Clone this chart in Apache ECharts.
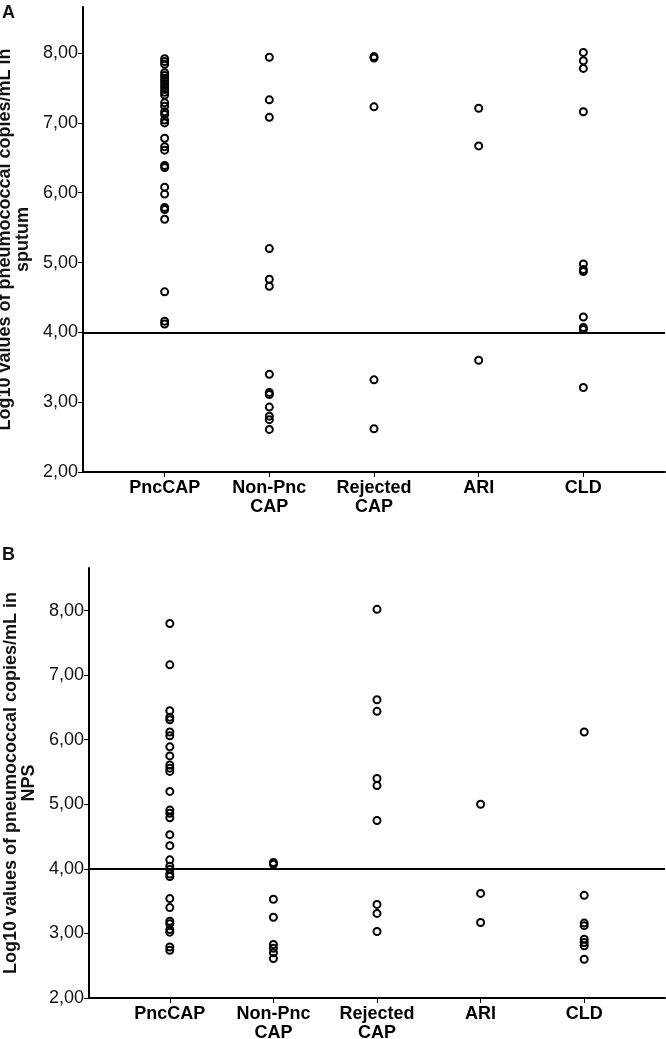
<!DOCTYPE html>
<html>
<head>
<meta charset="utf-8">
<script src="https://cdn.jsdelivr.net/npm/echarts@6/dist/echarts.min.js"></script>
<style>
html,body{margin:0;padding:0;background:#fff;}
#chart{width:666px;height:1039px;}
</style>
</head>
<body>
<div id="chart"></div>
<script>
const categories = ['PncCAP', 'Non-Pnc\nCAP', 'Rejected\nCAP', 'ARI', 'CLD'];
const yTicks = [2, 3, 4, 5, 6, 7, 8];
const threshold = 4;
const titleA = 'Log10 values of pneumococcal copies/mL in\nsputum';
const titleB = 'Log10 values of pneumococcal copies/mL in\nNPS';

// Panel A: sputum
const sputumPncCAP = [7.92, 7.88, 7.84, 7.72, 7.68, 7.64, 7.60, 7.56, 7.52, 7.48, 7.44, 7.40, 7.29, 7.24, 7.16, 7.12, 7.04, 7.00, 6.78, 6.66, 6.61, 6.39, 6.36, 6.08, 5.98, 5.79, 5.76, 5.62, 4.58, 4.16, 4.12];
const sputumNonPncCAP = [7.94, 7.33, 7.08, 5.20, 4.76, 4.66, 3.40, 3.14, 3.11, 2.93, 2.80, 2.75, 2.61];
const sputumRejectedCAP = [7.95, 7.93, 7.23, 3.32, 2.62];
const sputumARI = [7.21, 6.67, 3.60];
const sputumCLD = [8.01, 7.89, 7.78, 7.16, 4.98, 4.90, 4.87, 4.22, 4.07, 4.04, 3.21];

// Panel B: NPS
const npsPncCAP = [7.80, 7.16, 6.45, 6.35, 6.31, 6.12, 6.06, 5.89, 5.75, 5.61, 5.56, 5.51, 5.20, 4.91, 4.86, 4.79, 4.53, 4.36, 4.14, 4.04, 3.99, 3.92, 3.88, 3.54, 3.40, 3.19, 3.15, 3.06, 3.02, 2.79, 2.74];
const npsNonPncCAP = [4.10, 4.07, 3.53, 3.25, 2.83, 2.77, 2.70, 2.61];
const npsRejectedCAP = [8.02, 6.62, 6.44, 5.40, 5.29, 4.75, 3.45, 3.31, 3.03];
const npsARI = [5.00, 3.62, 3.17];
const npsCLD = [6.12, 3.59, 3.16, 3.12, 2.91, 2.86, 2.81, 2.60];

const sputumGroups = [sputumPncCAP, sputumNonPncCAP, sputumRejectedCAP, sputumARI, sputumCLD];
const npsGroups = [npsPncCAP, npsNonPncCAP, npsRejectedCAP, npsARI, npsCLD];

function toPoints(groups) {
  const pts = [];
  groups.forEach((g, i) => g.forEach(v => pts.push([i + 1, v])));
  return pts;
}

const FONT = '"Liberation Sans", Arial, sans-serif';
const catPositions = categories.map((c, i) => i + 1);

function xAxisCfg(gridIndex) {
  return {
    type: 'value', gridIndex: gridIndex, min: 0.22, max: 5.78,
    splitLine: {show: false},
    axisLine: {show: true, onZero: false, lineStyle: {color: '#000', width: 2}},
    axisTick: {show: true, customValues: catPositions, length: 5, lineStyle: {color: '#000', width: 1}},
    axisLabel: {
      show: true, customValues: catPositions, margin: 7,
      formatter: v => categories[Math.round(v) - 1] || '',
      color: '#000', fontFamily: FONT, fontWeight: 'bold', fontSize: 18, lineHeight: 19
    }
  };
}
function yAxisCfg(gridIndex, name, gap) {
  return {
    type: 'value', gridIndex: gridIndex, min: 2, max: 8.66,
    splitLine: {show: false},
    axisLine: {show: true, onZero: false, lineStyle: {color: '#000', width: 2}},
    axisTick: {show: true, customValues: yTicks, length: 5, lineStyle: {color: '#000', width: 1}},
    axisLabel: {
      show: true, customValues: yTicks, margin: 5,
      formatter: v => v.toFixed(2).replace('.', ','),
      color: '#111', fontFamily: FONT, fontSize: 18
    },
    name: name, nameLocation: 'middle', nameRotate: 90, nameGap: gap,
    nameTextStyle: {color: '#111', fontFamily: FONT, fontWeight: 'bold', fontSize: 18, lineHeight: 18, align: 'center'}
  };
}
function scatterSeries(idx, groups) {
  return {
    type: 'scatter', xAxisIndex: idx, yAxisIndex: idx,
    data: toPoints(groups),
    symbol: 'circle', symbolSize: 7,
    itemStyle: {color: 'rgba(0,0,0,0)', borderColor: '#000', borderWidth: 2, opacity: 1},
    silent: true,
    markLine: {
      silent: true, symbol: ['none', 'none'], label: {show: false},
      lineStyle: {color: '#000', width: 2, type: 'solid'},
      data: [{yAxis: threshold}]
    }
  };
}

const chart = echarts.init(document.getElementById('chart'), null, {renderer: 'canvas'});
chart.setOption({
  animation: false,
  backgroundColor: '#fff',
  grid: [
    {left: 83, top: 7, width: 582, height: 465, outerBoundsMode: 'none', containLabel: false},
    {left: 89, top: 568, width: 576, height: 430, outerBoundsMode: 'none', containLabel: false}
  ],
  xAxis: [xAxisCfg(0), xAxisCfg(1)],
  yAxis: [yAxisCfg(0, titleA, 44), yAxisCfg(1, titleB, 49)],
  graphic: [
    {type: 'text', left: 2, top: 4, style: {text: 'A', font: 'bold 18px ' + FONT, fill: '#111'}},
    {type: 'text', left: 2, top: 546, style: {text: 'B', font: 'bold 18px ' + FONT, fill: '#111'}}
  ],
  series: [scatterSeries(0, sputumGroups), scatterSeries(1, npsGroups)]
});
</script>
</body>
</html>
